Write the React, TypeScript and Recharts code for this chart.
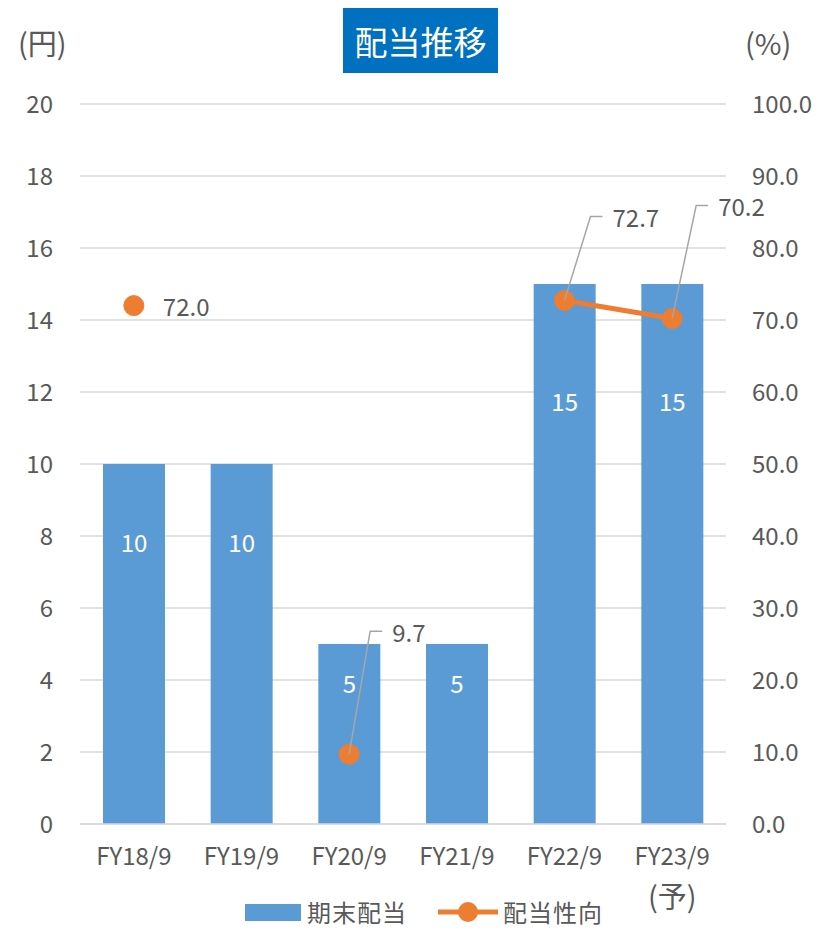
import React from 'react';
import { ComposedChart, Bar, Line, XAxis, YAxis, CartesianGrid, LabelList } from 'recharts';

const categories = ['FY18/9', 'FY19/9', 'FY20/9', 'FY21/9', 'FY22/9', 'FY23/9'];
const dividend = [10, 10, 5, 5, 15, 15];
const payoutRatio: (number | null)[] = [72.0, null, 9.7, null, 72.7, 70.2];
const leftTicks = [0, 2, 4, 6, 8, 10, 12, 14, 16, 18, 20];
const rightTicks = [0, 10, 20, 30, 40, 50, 60, 70, 80, 90, 100];

// leader-line offsets for ratio labels (dx, dy from the dot); null = plain label beside the dot
const leaderOffsets: ([number, number] | null)[] = [null, null, [21, -123], null, [26, -84], [24, -113]];

const data = categories.map((c, i) => ({ name: c, dividend: dividend[i], ratio: payoutRatio[i] }));

const FONT = '"Noto Sans CJK JP", "Noto Sans", sans-serif';
const TEXT = '#595959';
const BLUE = '#5b9bd5';
const ORANGE = '#ed7d31';

const BarValue = (props: any) => {
  const { x, y, width, height, value } = props;
  return (
    <text x={x + width / 2} y={y + height * 0.215} textAnchor="middle" dominantBaseline="central"
      fill="#fff" fontSize={24} fontFamily={FONT}>{value}</text>
  );
};

const RatioLabel = (props: any) => {
  const { x, y, value, index } = props;
  if (value == null) return null;
  const off = leaderOffsets[index];
  const txt = Number(value).toFixed(1);
  if (!off) {
    return (
      <text x={x + 29} y={y} dominantBaseline="central" fill={TEXT} fontSize={24} fontFamily={FONT}>{txt}</text>
    );
  }
  const [dx, dy] = off;
  return (
    <g>
      <polyline points={`${x},${y} ${x + dx},${y + dy} ${x + dx + 12},${y + dy}`} fill="none" stroke="#a6a6a6" strokeWidth={1.5} />
      <text x={x + dx + 22} y={y + dy} dominantBaseline="central" fill={TEXT} fontSize={24} fontFamily={FONT}>{txt}</text>
    </g>
  );
};

const unitStyle: React.CSSProperties = { position: 'absolute', fontSize: 29, lineHeight: '34px', height: 34 };

export default function App() {
  return (
    <div style={{ position: 'absolute', left: 0, top: 0, width: 829, height: 930, background: '#fff', fontFamily: FONT, color: TEXT, overflow: 'hidden' }}>
      <ComposedChart width={829} height={930} data={data}
        margin={{ top: 104, right: 0, bottom: 56, left: 0 }}>
        <CartesianGrid vertical={false} stroke="#d9d9d9" strokeWidth={1.5} yAxisId="left" />
        <XAxis dataKey="name" tickLine={false} axisLine={{ stroke: '#d9d9d9', strokeWidth: 1.5 }} height={50}
          tickSize={0} tickMargin={24} tick={{ fontSize: 24, fill: TEXT, fontFamily: FONT }} interval={0} />
        <YAxis yAxisId="left" orientation="left" width={80} domain={[0, 20]} ticks={leftTicks}
          axisLine={false} tickLine={false} tickSize={0} tickMargin={27}
          tick={{ fontSize: 24, fill: TEXT, fontFamily: FONT }} />
        <YAxis yAxisId="right" orientation="right" width={103} domain={[0, 100]} ticks={rightTicks}
          axisLine={false} tickLine={false} tickSize={0} tickMargin={26}
          tickFormatter={(v: number) => v.toFixed(1)}
          tick={{ fontSize: 24, fill: TEXT, fontFamily: FONT }} />
        <Bar yAxisId="left" dataKey="dividend" fill={BLUE} barSize={62} isAnimationActive={false}>
          <LabelList dataKey="dividend" content={BarValue} />
        </Bar>
        <Line yAxisId="right" dataKey="ratio" stroke={ORANGE} strokeWidth={5} connectNulls={false}
          dot={{ r: 10, fill: ORANGE, stroke: ORANGE, strokeWidth: 1 }} activeDot={false} isAnimationActive={false}>
          <LabelList dataKey="ratio" content={RatioLabel} />
        </Line>
      </ComposedChart>

      <div style={{ position: 'absolute', left: 343, top: 8, width: 155, height: 65, background: '#0070c0', color: '#fff',
        fontSize: 33, display: 'flex', alignItems: 'center', justifyContent: 'center' }}>配当推移</div>
      <div style={{ ...unitStyle, left: 18, top: 25 }}>(円)</div>
      <div style={{ ...unitStyle, left: 745, top: 25 }}>(%)</div>
      <div style={{ ...unitStyle, left: 648, top: 878 }}>(予)</div>

      <div style={{ position: 'absolute', left: 245, top: 899, height: 26, lineHeight: '26px', display: 'flex', alignItems: 'center', fontSize: 24 }}>
        <div style={{ width: 56, height: 17, background: BLUE, marginRight: 6 }} />
        <span style={{ letterSpacing: 1 }}>期末配当</span>
        <svg width={60} height={24} style={{ marginLeft: 31, marginRight: 5 }}>
          <line x1={0} y1={12} x2={60} y2={12} stroke={ORANGE} strokeWidth={5} />
          <circle cx={30} cy={12} r={10} fill={ORANGE} />
        </svg>
        <span style={{ letterSpacing: 1 }}>配当性向</span>
      </div>
    </div>
  );
}
